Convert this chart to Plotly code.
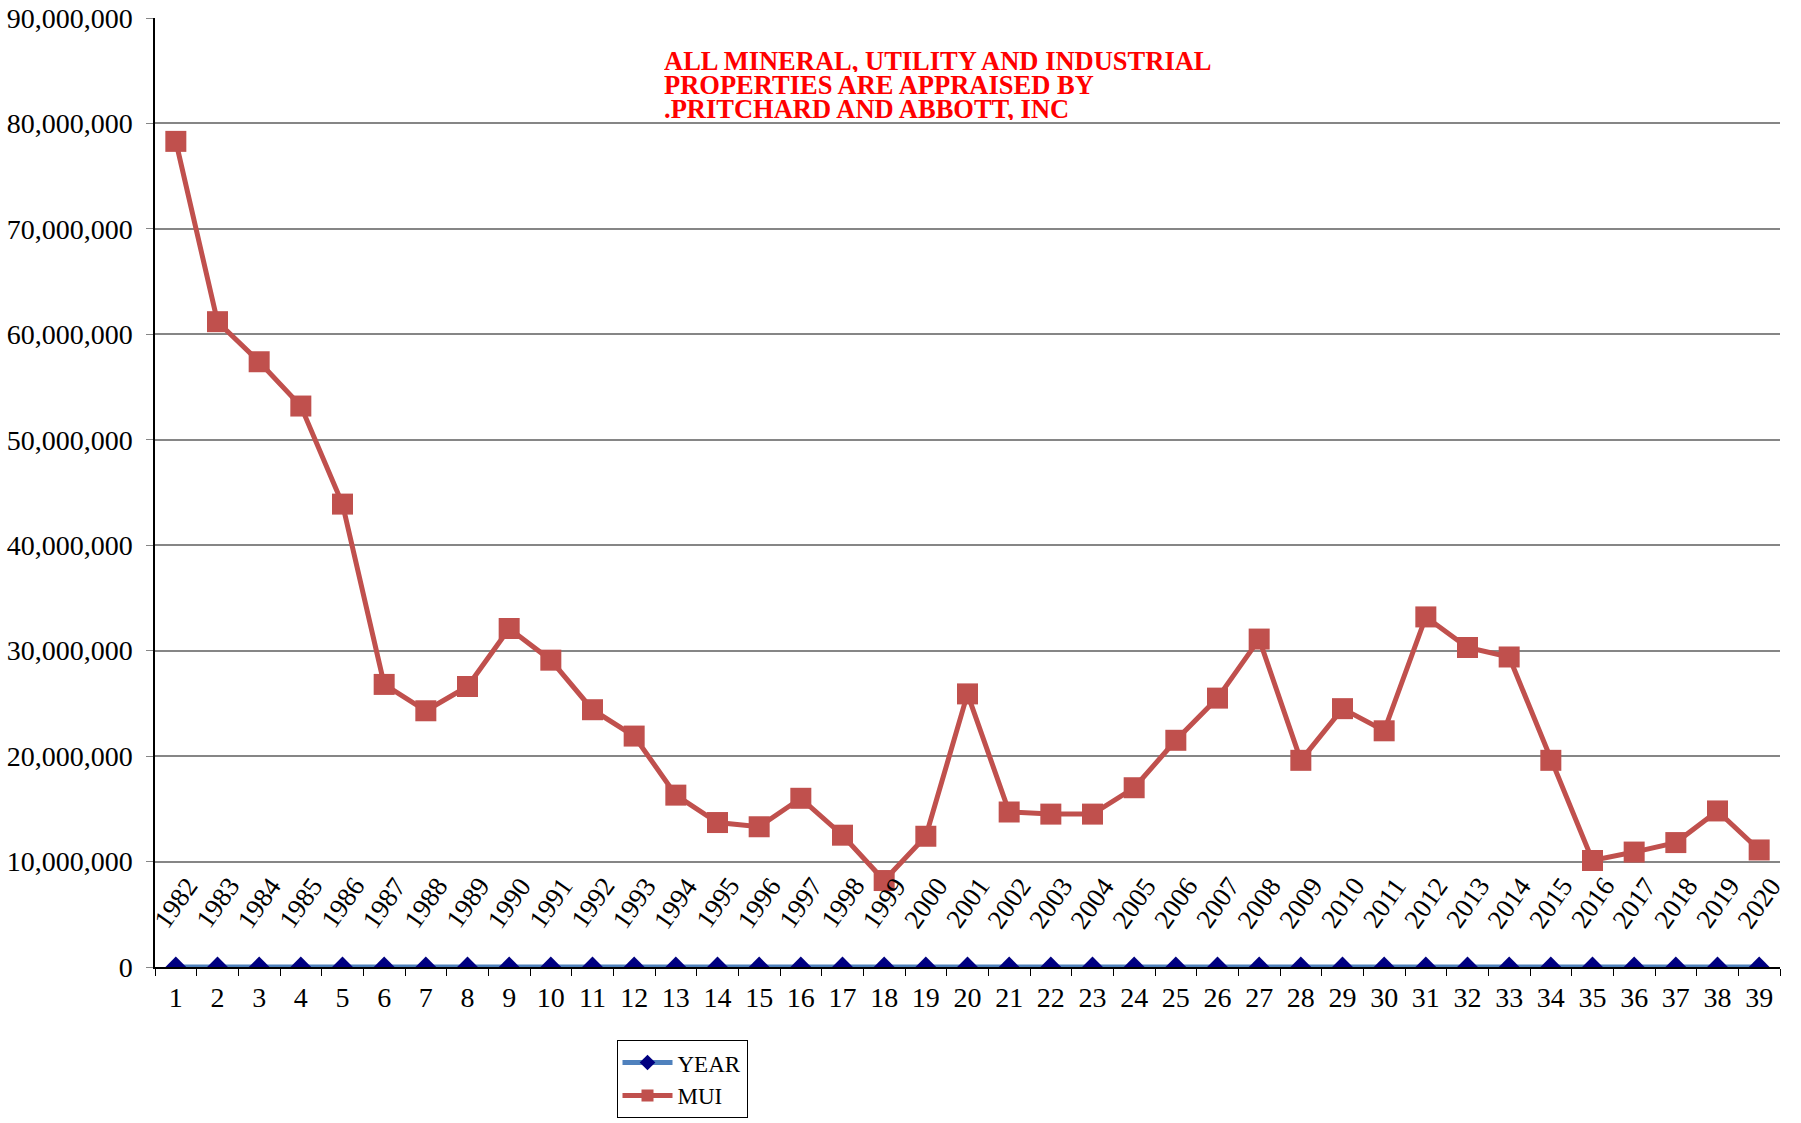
import plotly.graph_objects as go

# Category positions along the x axis
categories = [str(i) for i in range(1, 40)]

# YEAR series (plotted at its raw values, i.e. essentially at zero on this scale)
years = [1982, 1983, 1984, 1985, 1986, 1987, 1988, 1989, 1990, 1991,
         1992, 1993, 1994, 1995, 1996, 1997, 1998, 1999, 2000, 2001,
         2002, 2003, 2004, 2005, 2006, 2007, 2008, 2009, 2010, 2011,
         2012, 2013, 2014, 2015, 2016, 2017, 2018, 2019, 2020]

# MUI series values
mui = [78_300_000, 61_200_000, 57_400_000, 53_200_000, 43_900_000,
       26_800_000, 24_300_000, 26_600_000, 32_100_000, 29_100_000,
       24_400_000, 21_900_000, 16_300_000, 13_700_000, 13_300_000,
       16_000_000, 12_500_000, 8_200_000, 12_400_000, 25_900_000,
       14_700_000, 14_500_000, 14_500_000, 17_000_000, 21_500_000,
       25_500_000, 31_100_000, 19_600_000, 24_500_000, 22_400_000,
       33_200_000, 30_300_000, 29_400_000, 19_600_000, 10_100_000,
       10_900_000, 11_800_000, 14_800_000, 11_100_000]

title_lines = ["ALL MINERAL, UTILITY AND INDUSTRIAL",
               "PROPERTIES ARE APPRAISED BY",
               ".PRITCHARD AND ABBOTT, INC"]

SERIF = "Liberation Serif, Times New Roman, serif"

fig = go.Figure()

fig.add_trace(go.Scatter(
    x=categories, y=years, name="YEAR", mode="lines+markers",
    line=dict(color="#4F81BD", width=5),
    marker=dict(symbol="diamond", size=16, color="#000080"),
))

fig.add_trace(go.Scatter(
    x=categories, y=mui, name="MUI", mode="lines+markers",
    line=dict(color="#C0504D", width=5),
    marker=dict(symbol="square", size=21, color="#C0504D"),
))

# Rotated year labels above the YEAR points (x given as category index)
for idx, yr in enumerate(years):
    fig.add_annotation(
        x=idx, y=yr, text=str(yr), showarrow=False, textangle=-55,
        yshift=64, font=dict(family=SERIF, size=27, color="#000"),
    )

# Red note in the upper middle of the plot
for line, yp in zip(title_lines, [0.9547, 0.9294, 0.9041]):
    fig.add_annotation(
        xref="paper", yref="paper", x=0.3126, y=yp, xanchor="left",
        yanchor="middle", text="<b>" + line + "</b>", showarrow=False,
        font=dict(family=SERIF, size=26.5, color="#FF0000"),
        height=22, valign="middle", borderpad=0,
    )

fig.update_layout(
    width=1801, height=1123,
    margin=dict(l=155, r=21, t=18, b=156, autoexpand=False),
    plot_bgcolor="white", paper_bgcolor="white",
    font=dict(family=SERIF, color="#000"),
    showlegend=True,
    legend=dict(
        x=0.284, y=-0.077, xanchor="left", yanchor="top",
        bgcolor="white", bordercolor="#000", borderwidth=1,
        font=dict(family=SERIF, size=23, color="#000"),
        itemwidth=50, tracegroupgap=0, itemsizing="constant",
    ),
    xaxis=dict(
        type="category", range=[-0.5, 38.5], showgrid=False, showline=True,
        linecolor="#000", linewidth=1.5,
        ticks="outside", tickson="boundaries", ticklen=7,
        tickcolor="#000", tickfont=dict(family=SERIF, size=28),
        ticklabelstandoff=5, zeroline=False,
    ),
    yaxis=dict(
        range=[0, 90_000_000], dtick=10_000_000, tickformat=",d",
        showgrid=True, gridcolor="#868686", gridwidth=1.5,
        showline=True, linecolor="#000", linewidth=1.5,
        ticks="outside", ticklen=7, tickcolor="#868686",
        tickfont=dict(family=SERIF, size=28), ticklabelstandoff=8,
        zeroline=True, zerolinecolor="#000", zerolinewidth=1.5,
    ),
)

fig.write_html("out.html")
